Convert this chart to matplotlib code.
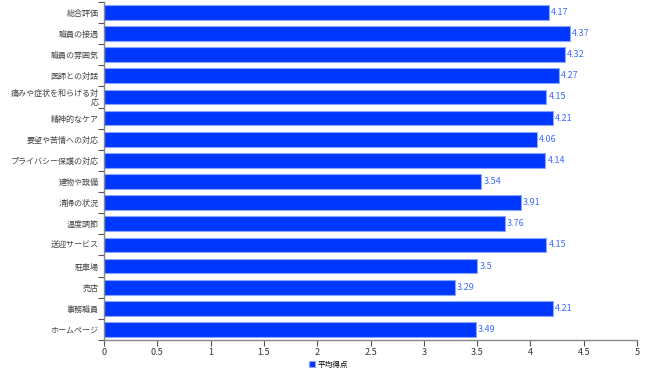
import matplotlib
matplotlib.use("Agg")
import matplotlib.pyplot as plt
import numpy as np

plt.rcParams['font.family'] = ['Noto Sans CJK JP', 'DejaVu Sans']

categories = ["総合評価", "職員の接遇", "職員の雰囲気", "医師との対話",
              "痛みや症状を和らげる対\n応", "精神的なケア", "要望や苦情への対応",
              "プライバシー保護の対応", "建物や設備", "清掃の状況", "温度調節",
              "送迎サービス", "駐車場", "売店", "事務職員", "ホームページ"]
values = [4.17, 4.37, 4.32, 4.27, 4.15, 4.21, 4.06, 4.14, 3.54, 3.91, 3.76,
          4.15, 3.5, 3.29, 4.21, 3.49]
series_name = "平均得点"
xticks = [0, 0.5, 1, 1.5, 2, 2.5, 3, 3.5, 4, 4.5, 5]

fig = plt.figure(figsize=(6.5, 3.72), dpi=100)
ax = fig.add_axes([0.16, 0.086, 0.82, 0.909])

n = len(categories)
y = np.arange(n)
bars = ax.barh(y, values, height=0.7, color='#0037ff', edgecolor='#8aa5ff',
               linewidth=0.8, label=series_name)
for yi, v in zip(y, values):
    ax.text(v + 0.02, yi, f"{v:g}", va='center', ha='left', fontsize=6.5,
            color='#3f6bff')

ax.set_ylim(n - 0.5, -0.5)
ax.set_xlim(0, 5)
ax.set_yticks(y)
ax.set_yticklabels(categories, fontsize=5.8, color='#444444', linespacing=0.95)
ax.set_yticks(np.arange(-0.5, n, 1), minor=True)
ax.tick_params(axis='y', which='major', length=0, pad=4)
ax.tick_params(axis='y', which='minor', length=4, color='#555555', width=0.8)
ax.set_xticks(xticks)
ax.set_xticklabels([f"{t:g}" for t in xticks], fontsize=6.5, color='#333333')
ax.tick_params(axis='x', length=4, color='#555555', width=0.8, pad=2)

for s in ['top', 'right']:
    ax.spines[s].set_visible(False)
for s in ['left', 'bottom']:
    ax.spines[s].set_color('#888888')
    ax.spines[s].set_linewidth(1.0)

fig.legend(handles=[bars], labels=[series_name], loc='lower center',
           bbox_to_anchor=(0.505, -0.01), frameon=False, fontsize=5.5,
           handlelength=0.8, handleheight=0.8, handletextpad=0.3)

fig.savefig("out.png", dpi=100)
